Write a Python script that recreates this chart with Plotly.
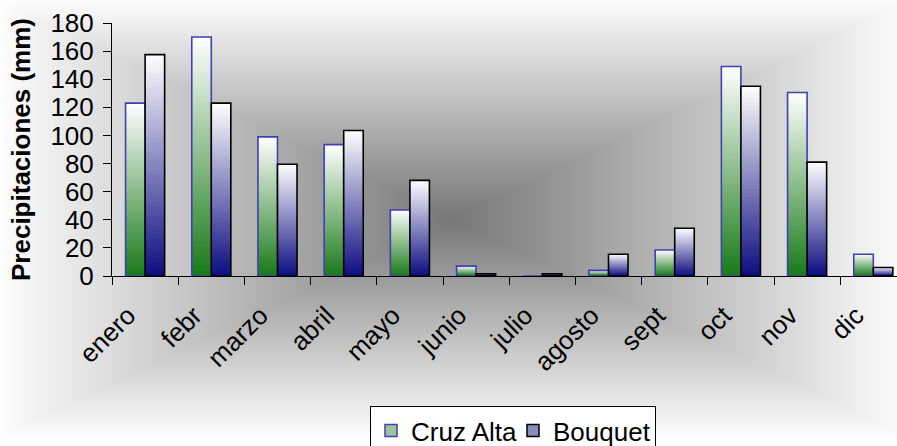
import base64, struct, zlib
import numpy as np
import plotly.graph_objects as go

categories = ["enero", "febr", "marzo", "abril", "mayo", "junio", "julio",
              "agosto", "sept", "oct", "nov", "dic"]
cruz_alta = [123, 170, 99, 93.5, 47, 7, 0, 4, 18.5, 149, 130.5, 15.5]
bouquet = [157.5, 123, 79.5, 103.5, 68, 1.5, 1.5, 15.5, 34, 135, 81, 6]
y_ticks = [0, 20, 40, 60, 80, 100, 120, 140, 160, 180]

W, H = 897, 446
ML, MR, MT, MB = 112, 0, 22.7, H - 276
PW, PH = W - ML - MR, H - MT - MB
CAT_PX = 66.2
FONT = "Liberation Sans, Arial, sans-serif"


def png_gray(arr):
    h, w = arr.shape
    raw = b"".join(b"\x00" + arr[i].tobytes() for i in range(h))
    def chunk(t, d):
        c = struct.pack(">I", len(d)) + t + d
        return c + struct.pack(">I", zlib.crc32(t + d) & 0xffffffff)
    return (b"\x89PNG\r\n\x1a\n" + chunk(b"IHDR", struct.pack(">IIBBBBB", w, h, 8, 0, 0, 0, 0))
            + chunk(b"IDAT", zlib.compress(raw, 9)) + chunk(b"IEND", b""))


yy, xx = np.mgrid[0:H, 0:W].astype(float)
cx, cy = W / 2 + 5, H / 2 - 5
t = np.maximum(np.abs(xx - cx) / cx, np.abs(yy - cy) / cy)
t = np.clip(t, 0, 1)
g = (120 + (253 - 120) * t).astype(np.uint8)
bg_uri = "data:image/png;base64," + base64.b64encode(png_gray(g)).decode()

fig = go.Figure()

N = 48
BW = 0.295


def grad_bars(vals, bottom_rgb, offset, line_color):
    for k in range(N):
        frac_top = (N - k) / N
        f = (N - k - 0.5) / N
        c = [int(round(b + (255 - b) * f)) for b in bottom_rgb]
        fig.add_trace(go.Bar(
            x=categories, y=[v * frac_top for v in vals],
            offset=offset, width=BW,
            marker=dict(color=f"rgb({c[0]},{c[1]},{c[2]})", line=dict(width=0)),
            showlegend=False, hoverinfo="skip"))
    fig.add_trace(go.Bar(
        x=categories, y=vals, offset=offset, width=BW,
        marker=dict(color="rgba(0,0,0,0)", line=dict(color=line_color, width=1.6)),
        showlegend=False, hoverinfo="skip"))


grad_bars(cruz_alta, (25, 122, 25), -BW, "#4040b4")
grad_bars(bouquet, (12, 12, 128), 0, "#000000")

fig.add_trace(go.Bar(x=[None], y=[None], name="Cruz Alta",
                     marker=dict(color="#9cc39c", line=dict(color="#4040b4", width=1.5))))
fig.add_trace(go.Bar(x=[None], y=[None], name="Bouquet",
                     marker=dict(color="#8c8cbc", line=dict(color="#000000", width=1.5))))

fig.update_layout(
    template="none",
    width=W, height=H, barmode="overlay",
    margin=dict(l=ML, r=MR, t=MT, b=MB, pad=0, autoexpand=False),
    paper_bgcolor="white", plot_bgcolor="rgba(0,0,0,0)",
    font=dict(family=FONT, color="black", size=26),
    images=[dict(source=bg_uri, xref="paper", yref="paper",
                 x=-ML / PW, y=1 + MT / PH, sizex=W / PW, sizey=H / PH,
                 xanchor="left", yanchor="top", sizing="stretch", layer="below")],
    showlegend=True,
    legend=dict(orientation="h", xref="container", yref="container",
                x=513 / W, xanchor="center",
                y=1 - 406 / H, yanchor="top",
                bgcolor="white", bordercolor="black", borderwidth=1,
                entrywidth=97, entrywidthmode="pixels",
                font=dict(size=26, family=FONT), traceorder="normal"),
    xaxis=dict(type="category", categoryorder="array", categoryarray=categories,
               range=[-0.5, -0.5 + PW / CAT_PX], tickangle=-45, automargin=False,
               showline=True, linecolor="black", linewidth=1,
               ticks="outside", ticklen=8, tickcolor="black", tickson="boundaries",
               showgrid=False, zeroline=False, tickfont=dict(size=26),
               ticklabelshift=-17, ticklabelstandoff=13),
    yaxis=dict(range=[0, 180], tickvals=y_ticks, showline=True, linecolor="black",
               linewidth=1, ticks="outside", ticklen=8, tickcolor="black",
               showgrid=False, zeroline=False, tickfont=dict(size=26), automargin=False,
               ticklabelstandoff=4,
               title=dict(text="<b>Precipitaciones (mm)</b>", font=dict(size=26),
                          standoff=12)),
)

fig.write_html("out.html", config={"displayModeBar": False},
               post_script="document.body.style.margin='0px';")
